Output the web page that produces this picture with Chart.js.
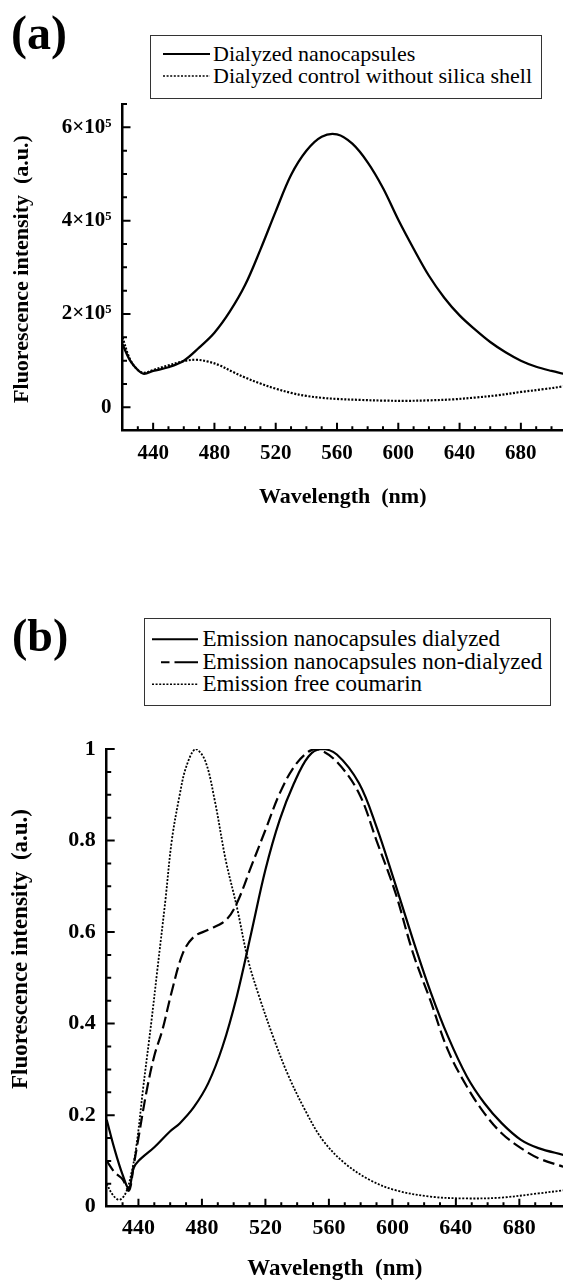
<!DOCTYPE html>
<html>
<head>
<meta charset="utf-8">
<title>Fluorescence spectra</title>
<script src="https://cdn.jsdelivr.net/npm/chart.js@4.4.1/dist/chart.umd.min.js"></script>
<style>
  html, body { margin: 0; padding: 0; background: #fff; }
  body { width: 563px; height: 1281px; position: relative; overflow: hidden;
         font-family: "Liberation Serif", "Times New Roman", serif; color: #000; }
  canvas { position: absolute; left: 0; }
  #chartA { top: 0; }
  #chartB { top: 560px; }
  .panel-label { position: absolute; font-weight: bold; line-height: 1; z-index: 2; }
  .legend { position: absolute; box-sizing: border-box; border: 1.5px solid #333; background: #fff; z-index: 2; }
  .legend .row { display: flex; align-items: center; white-space: nowrap; }
  .legend svg { flex: none; display: block; }
</style>
</head>
<body>

<div class="panel-label" style="left:11px;top:9px;font-size:48px">(a)</div>
<div class="legend" style="left:150px;top:35px;width:392px;height:64px;padding:7px 0 0 11.5px;font-size:22px;line-height:22px">
  <div class="row"><svg width="47" height="22"><line x1="0" y1="11" x2="47" y2="11" stroke="#000" stroke-width="2"/></svg><span style="margin-left:3.6px">Dialyzed nanocapsules</span></div>
  <div class="row"><svg width="47" height="22"><line x1="0" y1="11" x2="47" y2="11" stroke="#000" stroke-width="1.6" stroke-dasharray="2 1.6"/></svg><span style="margin-left:3.6px">Dialyzed control without silica shell</span></div>
</div>

<div class="panel-label" style="left:12px;top:613px;font-size:46px">(b)</div>
<div class="legend" style="left:144px;top:618px;width:407px;height:88px;padding:9px 0 0 7px;font-size:23px;line-height:22.5px">
  <div class="row"><svg width="46.4" height="22.5"><line x1="0" y1="11.25" x2="46.4" y2="11.25" stroke="#000" stroke-width="2"/></svg><span style="margin-left:4px">Emission nanocapsules dialyzed</span></div>
  <div class="row"><svg width="46.4" height="22.5"><line x1="9" y1="11.25" x2="46.4" y2="11.25" stroke="#000" stroke-width="2" stroke-dasharray="8.5 5 24"/></svg><span style="margin-left:4px">Emission nanocapsules non-dialyzed</span></div>
  <div class="row"><svg width="46.4" height="22.5"><line x1="0" y1="11.25" x2="46.4" y2="11.25" stroke="#000" stroke-width="1.6" stroke-dasharray="2 1.6"/></svg><span style="margin-left:4px">Emission free coumarin</span></div>
</div>

<canvas id="chartA" width="563" height="560"></canvas>
<canvas id="chartB" width="563" height="721"></canvas>

<script>
// ---- panel (a): raw fluorescence intensity (a.u.) ----
const wavelengthDialyzedA = [420, 425, 430, 434, 440, 450, 460, 470, 480, 490, 500, 510, 520, 530, 540, 550, 560, 570, 580, 590, 600, 610, 620, 630, 640, 650, 660, 670, 680, 690, 700, 708];
const dialyzedA = [135000, 100000, 80000, 72000, 78000, 86000, 100000, 128000, 160000, 205000, 262000, 338000, 420000, 498000, 550000, 580000, 585000, 565000, 525000, 470000, 402000, 340000, 282000, 235000, 197000, 167000, 140000, 118000, 100000, 87000, 78000, 72000];

const wavelengthControlA = [420, 425, 430, 434, 440, 450, 460, 468, 476, 484, 492, 500, 510, 520, 530, 540, 550, 560, 575, 590, 605, 620, 635, 650, 665, 680, 695, 708];
const controlA = [150000, 102000, 80000, 74000, 80000, 90000, 99000, 102000, 98000, 89000, 76000, 64000, 51000, 40000, 31000, 24500, 20500, 18000, 16000, 14500, 14000, 15000, 17000, 21000, 26000, 33000, 39000, 45000];

const xTicksA = [440, 480, 520, 560, 600, 640, 680];
const yTicksA = [0, 200000, 400000, 600000];
const yTickLabelsA = ['0', '2\u00d710\u2075', '4\u00d710\u2075', '6\u00d710\u2075'];

// ---- panel (b): normalised emission ----
const wavelengthDialyzedB = [420, 425, 430, 434, 437, 440, 450, 460, 466, 475, 484, 493, 502, 511, 520, 529, 538, 547, 555, 565, 579, 590, 601, 613, 624, 635, 647, 658, 669, 681, 692, 708];
const dialyzedB = [0.19, 0.125, 0.07, 0.04, 0.085, 0.1, 0.13, 0.165, 0.182, 0.218, 0.27, 0.35, 0.46, 0.597, 0.736, 0.845, 0.925, 0.983, 1.0, 0.988, 0.925, 0.83, 0.714, 0.583, 0.47, 0.372, 0.284, 0.226, 0.182, 0.146, 0.128, 0.113];

const wavelengthNonDialyzedB = [420, 425, 430, 434, 437, 440, 445, 450, 455, 461, 468, 475, 484, 495, 502, 511, 520, 529, 538, 547, 553, 565, 579, 590, 602, 613, 624, 635, 647, 658, 669, 681, 692, 708];
const nonDialyzedB = [0.1, 0.075, 0.06, 0.035, 0.09, 0.15, 0.25, 0.33, 0.385, 0.47, 0.554, 0.59, 0.605, 0.626, 0.663, 0.743, 0.823, 0.903, 0.961, 0.994, 1.0, 0.972, 0.903, 0.8, 0.685, 0.554, 0.45, 0.342, 0.262, 0.204, 0.16, 0.128, 0.106, 0.087];

const wavelengthCoumarinB = [420, 424, 428, 432, 436, 439, 443, 448, 452, 457, 461, 466, 470, 476, 482, 488, 495, 502, 509, 516, 525, 534, 545, 556, 570, 586, 602, 624, 647, 669, 692, 708];
const coumarinB = [0.05, 0.025, 0.015, 0.03, 0.08, 0.14, 0.26, 0.4, 0.52, 0.67, 0.8, 0.9, 0.96, 1.0, 0.975, 0.889, 0.757, 0.655, 0.54, 0.46, 0.37, 0.29, 0.211, 0.146, 0.095, 0.058, 0.036, 0.022, 0.018, 0.02, 0.029, 0.036];

const xTicksB = [440, 480, 520, 560, 600, 640, 680];
const yTicksB = [0, 0.2, 0.4, 0.6, 0.8, 1];
const yTickLabelsB = ['0', '0.2', '0.4', '0.6', '0.8', '1'];

const serif = '"Liberation Serif", "Times New Roman", serif';

function zip(xs, ys) {
    return xs.map((x, i) => ({ x: x, y: ys[i] }));
}

// inward major + minor tick marks, placed through the chart scales
const innerTicks = {
    id: 'innerTicks',
    afterDraw(chart, args, opts) {
        const { ctx, chartArea, scales } = chart;
        const x = scales.x, y = scales.y;
        ctx.save();
        ctx.strokeStyle = '#000';
        ctx.lineWidth = 2;
        ctx.beginPath();
        for (let i = 0; ; i++) {
            const v = opts.xFrom + i * opts.xStep;
            if (v >= x.max) break;
            const px = x.getPixelForValue(v);
            const len = v % opts.xMajor === 0 ? 8 : 4.5;
            ctx.moveTo(px, chartArea.bottom);
            ctx.lineTo(px, chartArea.bottom - len);
        }
        for (let i = 1; ; i++) {
            const v = y.min + i * opts.yStep;
            if (v > y.max + 1e-9) break;
            const py = y.getPixelForValue(v);
            const r = v / opts.yMajor;
            const len = Math.abs(r - Math.round(r)) < 1e-6 ? 8 : 4.5;
            ctx.moveTo(chartArea.left, py);
            ctx.lineTo(chartArea.left + len, py);
        }
        ctx.stroke();
        ctx.restore();
    }
};

const yTitle = {
    id: 'yTitle',
    afterDraw(chart, args, opts) {
        const ctx = chart.ctx;
        ctx.save();
        ctx.translate(opts.x, opts.y);
        ctx.rotate(-Math.PI / 2);
        ctx.font = 'bold ' + opts.size + 'px ' + serif;
        ctx.fillStyle = '#000';
        ctx.textAlign = 'center';
        ctx.textBaseline = 'middle';
        ctx.fillText(opts.text, 0, 0);
        ctx.restore();
    }
};

function makeChart(canvasId, cfg) {
    return new Chart(document.getElementById(canvasId), {
        type: 'line',
        data: { datasets: cfg.datasets },
        plugins: [innerTicks, yTitle],
        options: {
            responsive: false,
            animation: false,
            layout: { padding: { top: cfg.top, left: 0, right: 0, bottom: 0 } },
            elements: { point: { radius: 0 }, line: { tension: 0.35 } },
            plugins: {
                legend: { display: false },
                tooltip: { enabled: false },
                innerTicks: cfg.ticks,
                yTitle: cfg.yTitle
            },
            scales: {
                x: {
                    type: 'linear',
                    min: 420,
                    max: 707.5,
                    afterBuildTicks: s => { s.ticks = cfg.xTicks.map(v => ({ value: v })); },
                    afterFit: s => { s.height = cfg.xHeight; },
                    grid: { display: false, drawTicks: false },
                    border: { display: true, color: '#000', width: 2.5 },
                    ticks: {
                        color: '#000', padding: cfg.xPad, maxRotation: 0, autoSkip: false,
                        font: { family: serif, size: cfg.tickSize, weight: 'bold' }
                    },
                    title: {
                        display: true, text: 'Wavelength  (nm)', color: '#000',
                        font: { family: serif, size: cfg.titleSize, weight: 'bold', lineHeight: 1 },
                        padding: { top: 0, bottom: cfg.titlePad }
                    }
                },
                y: {
                    min: cfg.yMin,
                    max: cfg.yMax,
                    afterBuildTicks: s => { s.ticks = cfg.yTicks.map(v => ({ value: v })); },
                    afterFit: s => { s.width = cfg.yWidth; },
                    grid: { display: false, drawTicks: false },
                    border: { display: true, color: '#000', width: 2.5 },
                    ticks: {
                        color: '#000', padding: 11,
                        font: { family: serif, size: cfg.tickSize, weight: 'bold' },
                        callback: (value, index) => cfg.yLabels[index]
                    }
                }
            }
        }
    });
}

makeChart('chartA', {
    datasets: [
        { label: 'Dialyzed nanocapsules', data: zip(wavelengthDialyzedA, dialyzedA),
          borderColor: '#000', borderWidth: 2.3, fill: false },
        { label: 'Dialyzed control without silica shell', data: zip(wavelengthControlA, controlA),
          borderColor: '#000', borderWidth: 2.2, borderDash: [2, 1.6], fill: false }
    ],
    top: 104, xHeight: 129.3, yWidth: 122.5, xPad: 10, titlePad: 52,
    tickSize: 21, titleSize: 22,
    yMin: -50000, yMax: 650000,
    xTicks: xTicksA, yTicks: yTicksA, yLabels: yTickLabelsA,
    ticks: { xFrom: 430, xStep: 10, xMajor: 40, yStep: 50000, yMajor: 200000 },
    yTitle: { text: 'Fluorescence intensity  (a.u.)', x: 22, y: 269, size: 22 }
});

makeChart('chartB', {
    datasets: [
        { label: 'Emission nanocapsules dialyzed', data: zip(wavelengthDialyzedB, dialyzedB),
          borderColor: '#000', borderWidth: 2.2, fill: false },
        { label: 'Emission nanocapsules non-dialyzed', data: zip(wavelengthNonDialyzedB, nonDialyzedB),
          borderColor: '#000', borderWidth: 2.2, borderDash: [12, 5], fill: false },
        { label: 'Emission free coumarin', data: zip(wavelengthCoumarinB, coumarinB),
          borderColor: '#000', borderWidth: 1.8, borderDash: [2, 1.6], fill: false }
    ],
    top: 189, xHeight: 74.3, yWidth: 106.7, xPad: 8, titlePad: 0,
    tickSize: 22, titleSize: 23,
    yMin: 0, yMax: 1,
    xTicks: xTicksB, yTicks: yTicksB, yLabels: yTickLabelsB,
    ticks: { xFrom: 430, xStep: 10, xMajor: 40, yStep: 0.05, yMajor: 0.2 },
    yTitle: { text: 'Fluorescence intensity  (a.u.)', x: 21.5, y: 389, size: 23 }
});
</script>
</body>
</html>
